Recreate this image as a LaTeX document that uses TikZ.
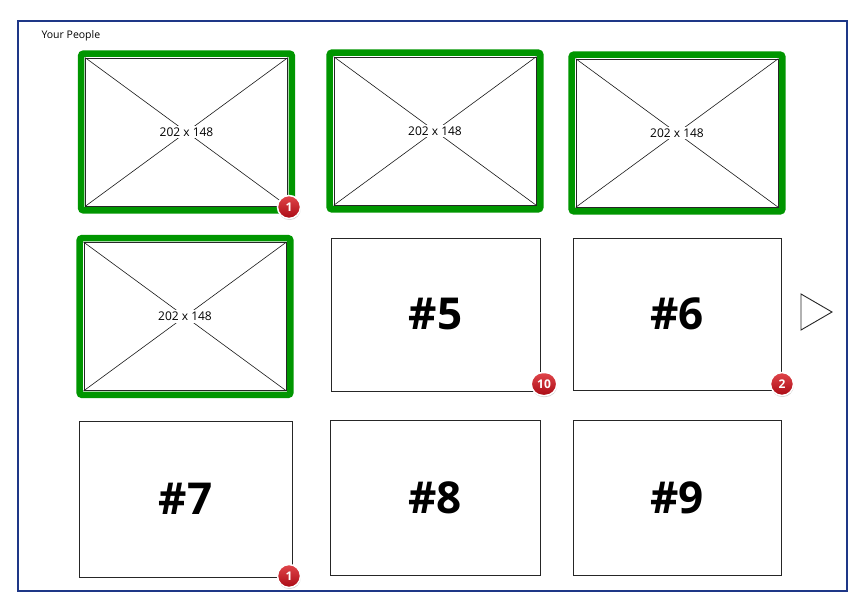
\documentclass[tikz,border=0pt]{standalone}
\usepackage{fontspec}
\setmainfont{Open Sans}
\usetikzlibrary{shadows,shapes.misc}
\definecolor{frameblue}{RGB}{30,55,135}
\definecolor{selgreen}{RGB}{0,150,0}
\definecolor{badgetop}{RGB}{225,70,75}
\definecolor{badgebot}{RGB}{170,10,20}
\begin{document}
\begin{tikzpicture}[x=1pt,y=-1pt,
  imgcard/.style={draw=black!85, line width=0.8pt, fill=white, inner sep=0pt,
    minimum width=202pt, minimum height=148pt},
  card/.style={draw=black!85, line width=0.8pt, fill=white, inner sep=0pt,
    font=\fontsize{44}{50}\selectfont\bfseries},
  sel/.style={draw=selgreen, line width=6.5pt, rounded corners=2.5pt},
  diag/.style={draw=black!90, line width=0.6pt},
  dim/.style={fill=white, inner sep=2pt, font=\fontsize{12}{14}\selectfont},
  badge/.style={rounded rectangle, draw=white, line width=1.5pt,
    top color=badgetop, bottom color=badgebot, text=white,
    font=\fontsize{12}{13}\selectfont\bfseries, minimum height=23pt,
    minimum width=23pt, inner xsep=4pt, inner ysep=0pt,
    drop shadow={opacity=0.35, shadow xshift=0.4pt, shadow yshift=-1.5pt}},
  tri/.style={draw=black!85, line width=0.9pt, fill=white, line join=miter}
]
\useasboundingbox (0,0) rectangle (868,607);
\fill[white] (0,0) rectangle (868,607);
\draw[frameblue, line width=2pt] (18,21) rectangle (847,591);
\node[anchor=west, font=\fontsize{10.5}{12}\selectfont] (title) at (38,36) {Your People};

% image placeholder cards
\foreach \n/\x/\y in {c1/186.5/132, c2/435/131, c3/677/133, c4/185/316.5}{
  \node[imgcard] (\n) at (\x,\y) {};
  \draw[sel] ([shift={(-4,-4)}]\n.north west) rectangle ([shift={(4,4)}]\n.south east);
  \draw[diag] (\n.north west) -- (\n.south east);
  \draw[diag] (\n.north east) -- (\n.south west);
  \node[dim] (\n t) at (\n.center) {202 x 148};
}

% numbered cards
\node[card, minimum width=209pt, minimum height=153pt] (c5) at (435.5,314.5) {\#5};
\node[card, minimum width=208pt, minimum height=152pt] (c6) at (677,314) {\#6};
\node[card, minimum width=213pt, minimum height=156pt] (c7) at (185.5,499) {\#7};
\node[card, minimum width=210pt, minimum height=155pt] (c8) at (435,497.5) {\#8};
\node[card, minimum width=208pt, minimum height=155pt] (c9) at (677,497.5) {\#9};

% next arrow
\coordinate (ta) at (801,294);
\coordinate (tb) at (832,312);
\coordinate (tc) at (801,330);
\draw[tri] (ta) -- (tb) -- (tc) -- cycle;

% badges
\node[badge] (b1) at (289,207) {1};
\node[badge, inner xsep=5pt] (b5) at (544,384) {10};
\node[badge] (b6) at (782,384) {2};
\node[badge] (b7) at (289,576) {1};
\end{tikzpicture}
\end{document}
